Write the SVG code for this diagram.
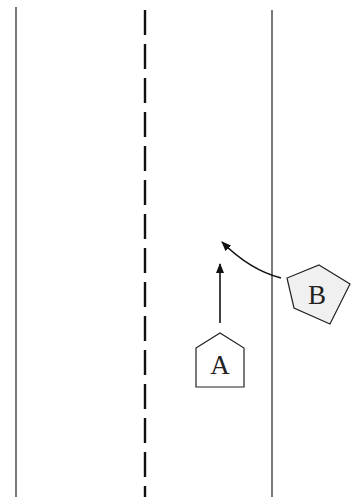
<svg xmlns="http://www.w3.org/2000/svg" width="352" height="497" viewBox="0 0 352 497">
  <style>
    .edge { stroke: #222; stroke-width: 1.2; fill: none; }
    .center { stroke: #111; stroke-width: 2.4; stroke-dasharray: 25 9; fill: none; }
    .car { stroke: #222; stroke-width: 1.2; }
    .label { font-family: "Liberation Serif", "DejaVu Serif", serif; font-size: 27px; fill: #222; text-anchor: middle; }
    .move { stroke: #111; stroke-width: 1.6; fill: none; marker-end: url(#head); }
  </style>
  <defs>
    <marker id="head" viewBox="0 0 10 8" refX="9" refY="4" markerWidth="10" markerHeight="8" markerUnits="userSpaceOnUse" orient="auto">
      <path d="M0,0 L10,4 L0,8 z" fill="#111"/>
    </marker>
  </defs>
  <rect width="352" height="497" fill="#fff"/>

  <!-- road edges and centre line -->
  <g id="road">
    <line class="edge" x1="16" y1="7" x2="16" y2="497"/>
    <line class="edge" x1="272" y1="10" x2="272" y2="497"/>
    <line class="center" x1="145" y1="10" x2="145" y2="497"/>
  </g>

  <!-- vehicle A -->
  <g id="A">
    <path class="car" d="M196,348 L220,333 L244,348 L244,387 L196,387 Z" fill="#fff"/>
    <text class="label" x="220" y="374">A</text>
  </g>

  <!-- vehicle B -->
  <g id="B">
    <path class="car" d="M319,265 L350,284 L330,324 L294,308 L287,278 Z" fill="#f0f0f0"/>
    <text class="label" x="317" y="304">B</text>
  </g>

  <!-- movement arrows -->
  <g id="connectors">
    <line class="move" x1="220" y1="323" x2="220" y2="264"/>
    <path class="move" d="M281,278 Q250,270 222,242"/>
  </g>
</svg>
